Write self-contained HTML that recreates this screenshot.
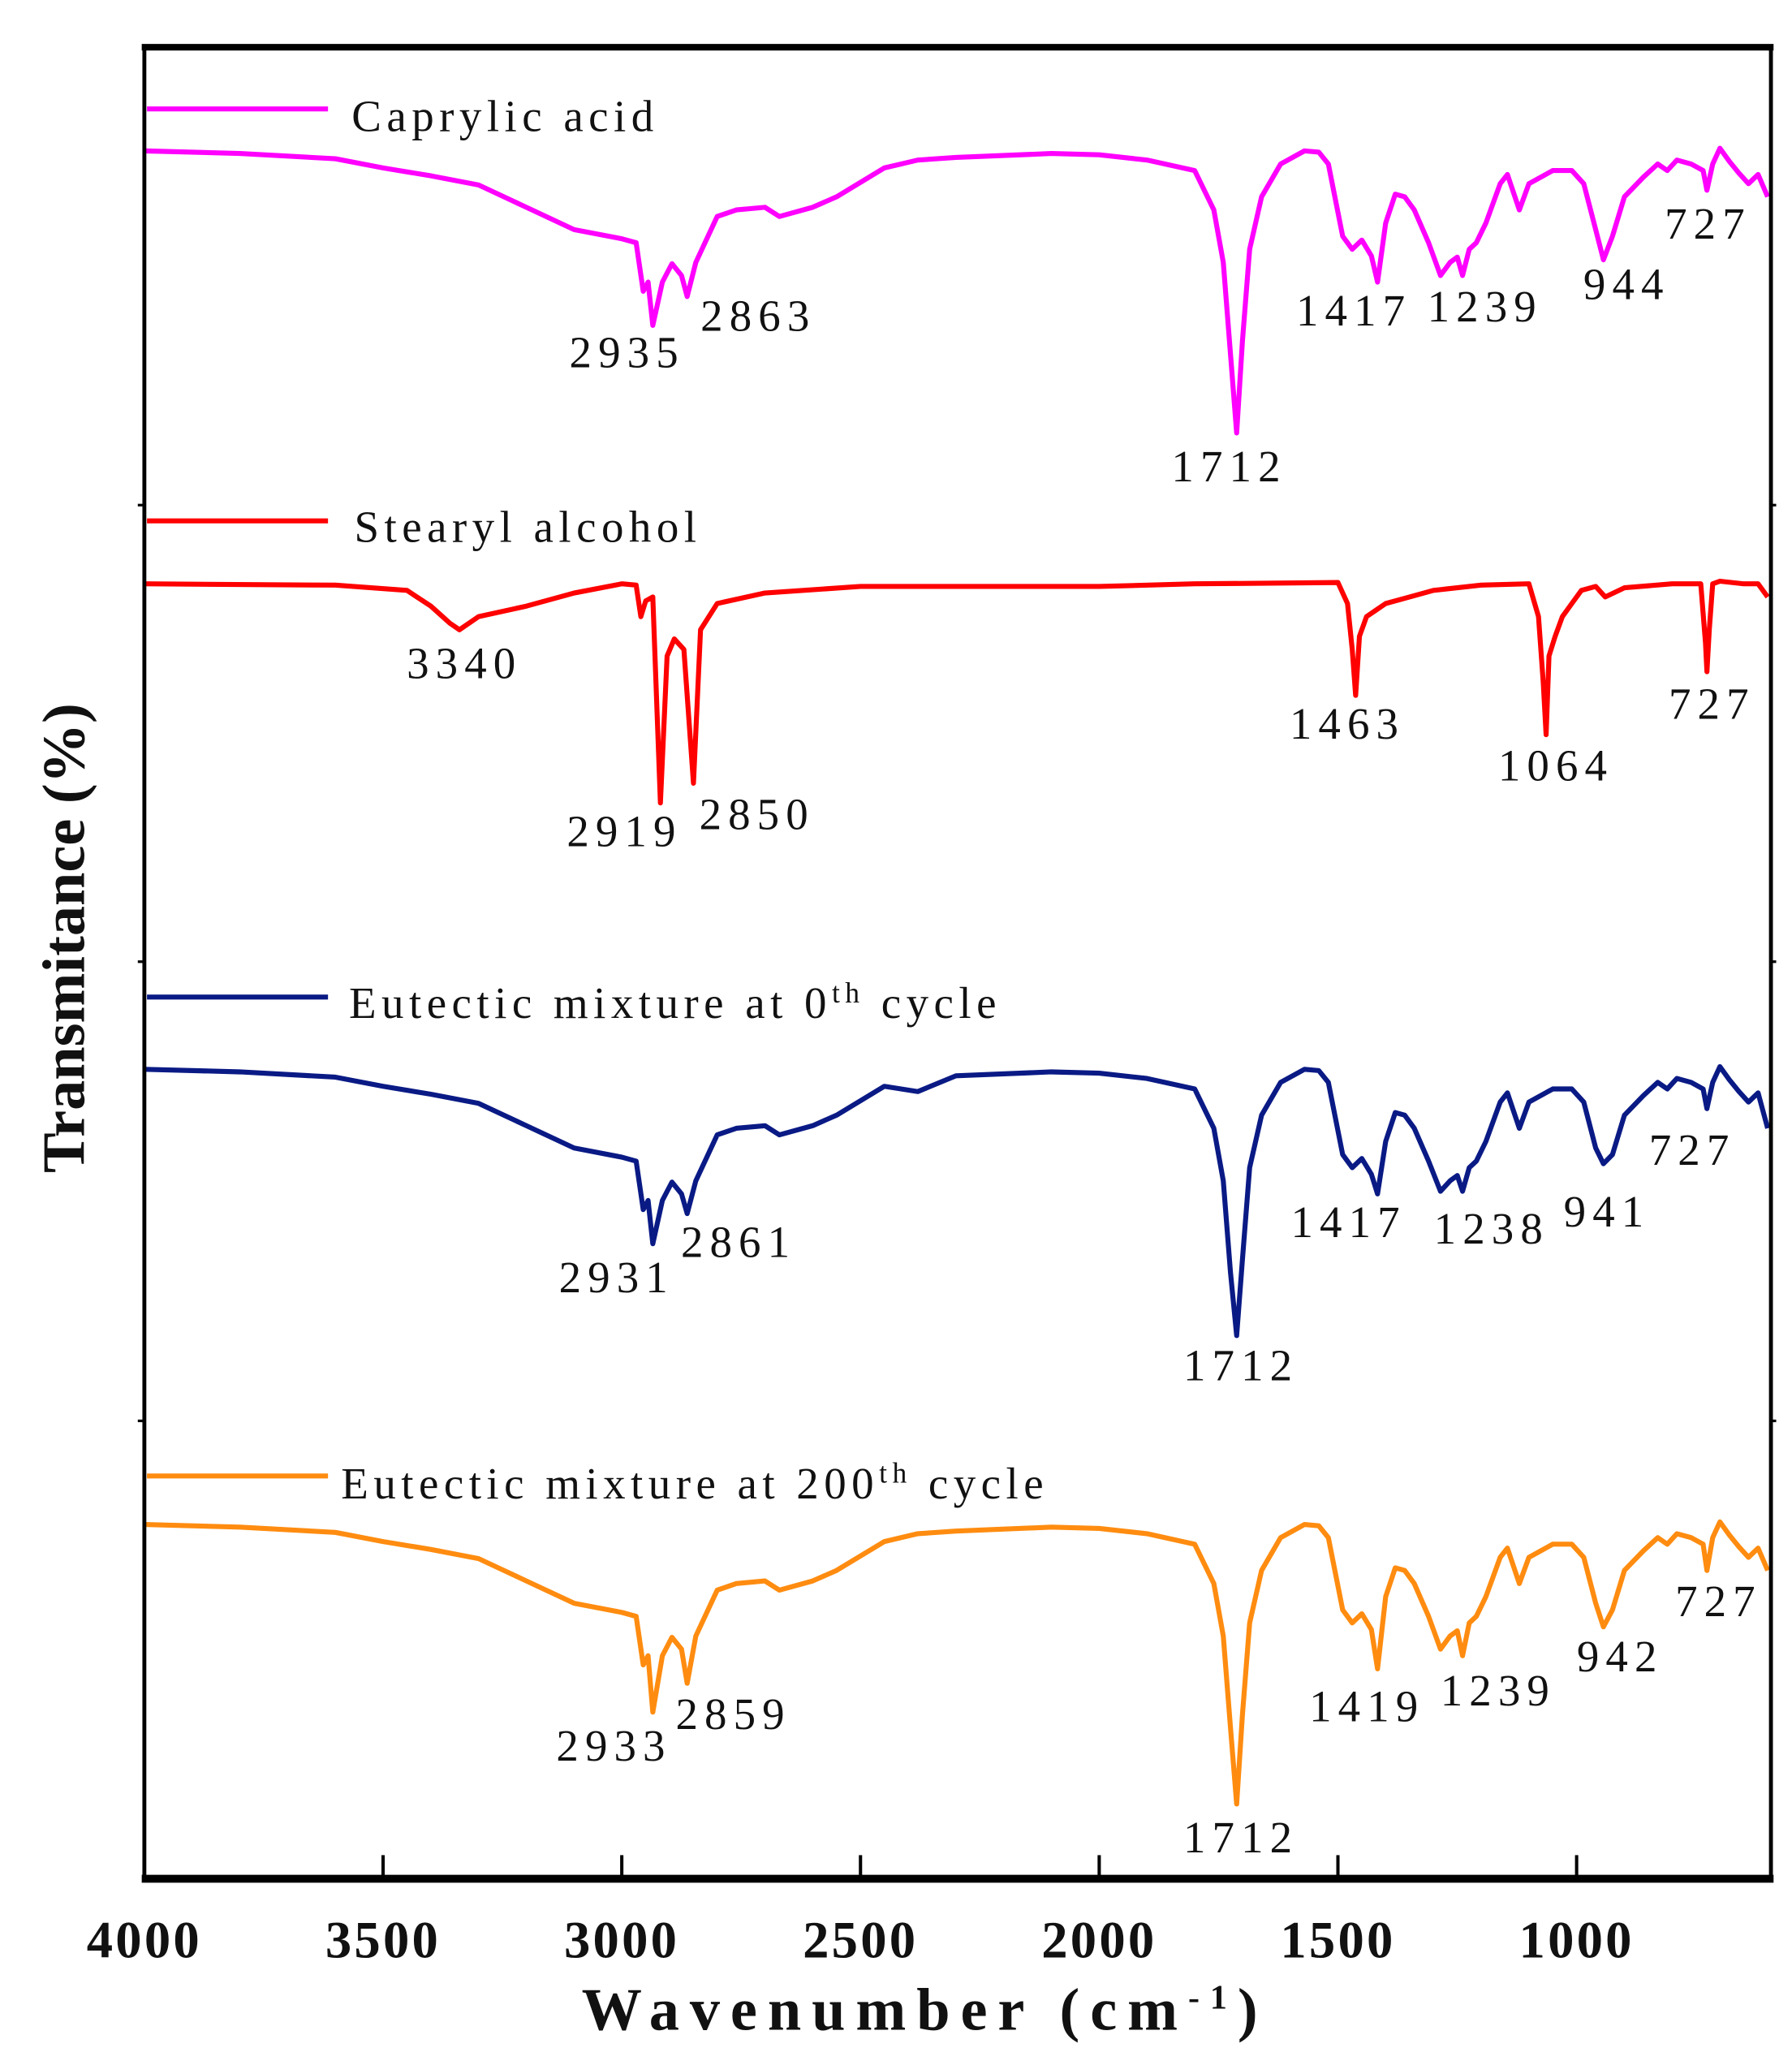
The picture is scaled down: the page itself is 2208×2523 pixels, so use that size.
<!DOCTYPE html>
<html><head><meta charset="utf-8"><style>
html,body{margin:0;padding:0;background:#fff;}
svg{display:block;}
text{font-family:"Liberation Serif",serif;fill:#111;}
</style></head><body>
<svg id="chart" width="2208" height="2523" viewBox="0 0 1366 1561" xmlns="http://www.w3.org/2000/svg">
<g id="series"></g>
<g id="axes"></g>
<g id="labels"></g>
<text transform="translate(64,715) rotate(-90)" text-anchor="middle" font-size="46" font-weight="bold">Transmitance (%)</text>
<text x="705" y="1547" text-anchor="middle" font-size="46" font-weight="bold" letter-spacing="8">Wavenumber (cm<tspan dy="-16" font-size="26">-1</tspan><tspan dy="16">)</tspan></text>
</svg>
<script>
// ---- data ----
const xTicks = [4000,3500,3000,2500,2000,1500,1000];
const wnMain = [4000,3800,3600,3500,3400,3300,3200,3100,3000,2970,2955,2945,2935,2915,2895,2875,2863,2845,2800,2760,2700,2670,2600,2550,2450,2380,2300,2100,2000,1900,1800,1760,1740,1725,1712,1700,1685,1660,1620,1570,1540,1520,1490,1470,1450,1430,1417,1400,1380,1360,1340,1310,1285,1265,1250,1239,1225,1210,1190,1160,1145,1120,1100,1050,1010,985,960,944,925,900,860,830,810,790,760,735,727,715,700,680,660,640,620,600];
const caprylic = [1385,1383,1379,1372,1366,1359,1342,1325,1318,1315,1278,1285,1252,1285,1299,1290,1274,1300,1335,1340,1342,1335,1342,1350,1372,1378,1380,1383,1382,1378,1370,1340,1300,1230,1170,1240,1310,1350,1375,1385,1384,1375,1320,1310,1317,1305,1285,1330,1352,1350,1340,1315,1290,1300,1304,1290,1310,1315,1330,1360,1367,1340,1360,1370,1370,1360,1325,1302,1320,1350,1365,1375,1370,1378,1375,1370,1355,1375,1387,1377,1368,1360,1367,1350];
const eutectic0 = [685,683,679,672,666,659,642,625,618,615,578,585,552,585,599,590,575,600,635,640,642,635,642,650,672,668,680,683,682,678,670,640,600,530,482,540,610,650,675,685,684,675,620,610,617,605,590,630,652,650,640,615,592,600,604,592,610,615,630,660,667,640,660,670,670,660,625,613,620,650,665,675,670,678,675,670,655,675,687,677,668,660,667,640];
const eutectic200 = [338,336,332,325,319,312,295,278,271,268,231,238,195,238,252,243,217,253,288,293,295,288,295,303,325,331,333,336,335,331,323,293,253,183,125,193,263,303,328,338,337,328,273,263,270,258,228,283,305,303,293,268,243,253,257,238,263,268,283,313,320,293,313,323,323,313,278,260,273,303,318,328,323,331,328,323,303,328,340,330,321,313,320,303];
const wnStearyl = [4000,3600,3450,3400,3360,3340,3300,3200,3100,3000,2970,2960,2950,2935,2919,2905,2890,2870,2850,2835,2800,2700,2500,2000,1800,1500,1480,1470,1463,1455,1440,1420,1400,1350,1300,1200,1100,1080,1070,1064,1058,1045,1030,1010,990,960,940,900,800,740,730,727,722,715,700,650,620,600];
const stearyl = [1055,1054,1050,1038,1025,1020,1030,1038,1048,1055,1054,1030,1042,1045,888,1000,1013,1005,903,1020,1040,1048,1053,1053,1055,1056,1040,1005,970,1015,1030,1035,1040,1045,1050,1054,1055,1030,980,940,1000,1015,1030,1040,1050,1053,1045,1052,1055,1055,1010,988,1020,1055,1057,1055,1055,1045];
const seriesNames = ["Caprylic acid","Stearyl alcohol","Eutectic mixture at 0","Eutectic mixture at 200"];
const peakCaprylic = [2935,2863,1712,1417,1239,944,727];
const peakStearyl = [3340,2919,2850,1463,1064,727];
const peakEut0 = [2931,2861,1712,1417,1238,941,727];
const peakEut200 = [2933,2859,1712,1419,1239,942,727];

// ---- scales ----
const L=110,R=1350,T=36,B=1432;
const X0=4000,X1=593, Y0=68, Y1=1464;
function xs(w){return L+(X0-w)/(X0-X1)*(R-L);}
function ys(v){return T+(Y1-v)/(Y1-Y0)*(B-T);}
const NS="http://www.w3.org/2000/svg";
function mk(tag,parent,attrs){const e=document.createElementNS(NS,tag);for(const k in attrs)e.setAttribute(k,attrs[k]);parent.appendChild(e);return e;}

const sg=document.getElementById('series');
function drawSeries(wn,vals,color,name){
  let d='';
  for(let i=0;i<wn.length;i++){d+=(i?'L':'M')+xs(wn[i]).toFixed(1)+','+ys(vals[i]).toFixed(1);}
  const p=mk('path',sg,{d:d,fill:'none',stroke:color,'stroke-width':3.8,'stroke-linejoin':'round'});
  
  
}
drawSeries(wnMain,caprylic,'#ff00ff','caprylic-acid-line');
drawSeries(wnStearyl,stearyl,'#ff0000','stearyl-alcohol-line');
drawSeries(wnMain,eutectic0,'#0a1a85','eutectic-0-line');
drawSeries(wnMain,eutectic200,'#ff8c10','eutectic-200-line');

// ---- axes ----
const ag=document.getElementById('axes');
const frame=mk('rect',ag,{x:L,y:T,width:R-L,height:B-T,fill:'none',stroke:'#000','stroke-width':3});


mk('line',ag,{x1:L-2,y1:B,x2:R+2,y2:B,stroke:'#000','stroke-width':6});
mk('line',ag,{x1:L-2,y1:T,x2:R+2,y2:T,stroke:'#000','stroke-width':5});
xTicks.forEach(t=>{
  const x=xs(t);
  const tk=mk('line',ag,{x1:x,y1:B,x2:x,y2:B-18,stroke:'#000','stroke-width':2.5});
  
  
  const lb=mk('text',ag,{x:x,y:1492,'text-anchor':'middle','font-size':40,'font-weight':'bold','letter-spacing':2});
  lb.textContent=t;
  
  
});
[385,733,1083].forEach(y=>{mk('line',ag,{x1:L-5,y1:y,x2:L,y2:y,stroke:'#000','stroke-width':2});mk('line',ag,{x1:R,y1:y,x2:R+4,y2:y,stroke:'#000','stroke-width':2});});

// ---- legend + peak labels ----
const lg=document.getElementById('labels');
function legend(y,color,tx,ty,txt,sup,name){
  const ln=mk('line',lg,{x1:112,y1:y,x2:250,y2:y,stroke:color,'stroke-width':3.8});
  
  
  const t=mk('text',lg,{x:tx,y:ty,'font-size':34,'letter-spacing':4});
  t.textContent=txt;
  if(sup){const s=mk('tspan',t,{dy:-12,'font-size':22});s.textContent='th';const s2=mk('tspan',t,{dy:12});s2.textContent=' cycle';}
  
  
}
legend(83,'#ff00ff',268,100,seriesNames[0],false,'legend-caprylic-acid');
legend(397,'#ff0000',270,413,seriesNames[1],false,'legend-stearyl-alcohol');
legend(760,'#0a1a85',266,776,seriesNames[2],true,'legend-eutectic-0');
legend(1125,'#ff8c10',260,1142,seriesNames[3],true,'legend-eutectic-200');

const lblPos=[
 [peakCaprylic,[[478,280],[578,252],[937,367],[1032,248],[1132,245],[1240,228],[1302,182]]],
 [peakStearyl,[[354,517],[476,645],[577,632],[1027,563],[1186,595],[1305,548]]],
 [peakEut0,[[470,985],[563,958],[946,1052],[1028,943],[1137,948],[1225,935],[1290,888]]],
 [peakEut200,[[468,1342],[559,1318],[946,1412],[1042,1312],[1142,1300],[1235,1274],[1310,1232]]]
];
lblPos.forEach(([vals,pos])=>{
  vals.forEach((v,i)=>{
    const t=mk('text',lg,{x:pos[i][0],y:pos[i][1],'text-anchor':'middle','font-size':34,'letter-spacing':5});
    t.textContent=v;
    
    
  });
});
</script>
</body></html>
